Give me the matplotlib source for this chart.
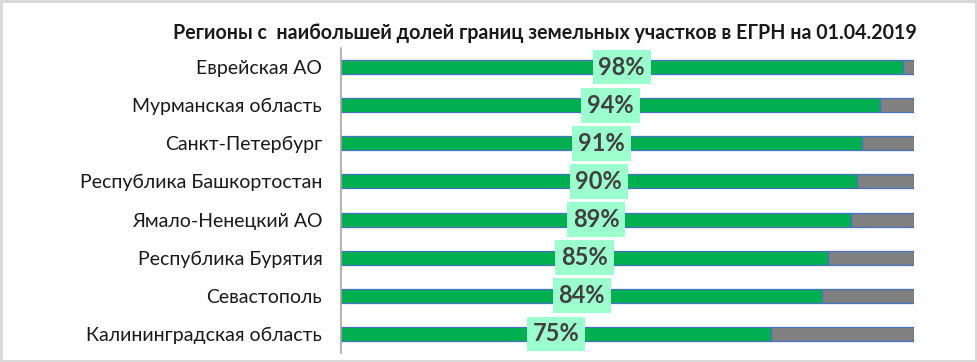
import matplotlib
matplotlib.use("Agg")
import matplotlib.pyplot as plt

categories = ["Еврейская АО", "Мурманская область", "Санкт-Петербург",
              "Республика Башкортостан", "Ямало-Ненецкий АО", "Республика Бурятия",
              "Севастополь", "Калининградская область"]
values = [98, 94, 91, 90, 89, 85, 84, 75]
total = 100
title = "Регионы с  наибольшей долей границ земельных участков в ЕГРН на 01.04.2019"

W, H = 977, 362
fig = plt.figure(figsize=(W / 100, H / 100), dpi=100)
fig.patch.set_facecolor("white")
fig.patch.set_edgecolor("#D9D9D9")
fig.patch.set_linewidth(2.5)

ax = fig.add_axes([341 / W, 1 - 353 / H, (914 - 341) / W, (353 - 48) / H])
ypos = list(range(len(categories)))
rest = [total - v for v in values]
ax.barh(ypos, values, height=0.37, color="#00B050", edgecolor="#4472C4", linewidth=0.9)
ax.barh(ypos, rest, left=values, height=0.37, color="#808080", edgecolor="#4472C4", linewidth=0.9)

for y, v in zip(ypos, values):
    ax.text(v / 2, y, f"{v}%", ha="center", va="center", fontsize=17, fontweight="bold",
            color="#404040", family="Lato",
            bbox=dict(boxstyle="square,pad=0.25", facecolor="#9CFFCE", edgecolor="none"))

ax.set_xlim(0, total)
ax.set_ylim(len(categories) - 0.5, -0.5)
ax.set_yticks(ypos)
ax.set_yticklabels(categories, fontsize=14, family="Lato", color="#1a1a1a")
ax.tick_params(axis="y", length=0, pad=13.5)
ax.set_xticks([])
for s in ["top", "right", "bottom"]:
    ax.spines[s].set_visible(False)
ax.spines["left"].set_color("#A6A6A6")
ax.spines["left"].set_linewidth(1.2)

fig.text(545 / W, 1 - 33 / H, title, ha="center", va="center", fontsize=14.1,
         fontweight="bold", family="Lato", color="#1a1a1a")

fig.savefig("out.png", dpi=100)
